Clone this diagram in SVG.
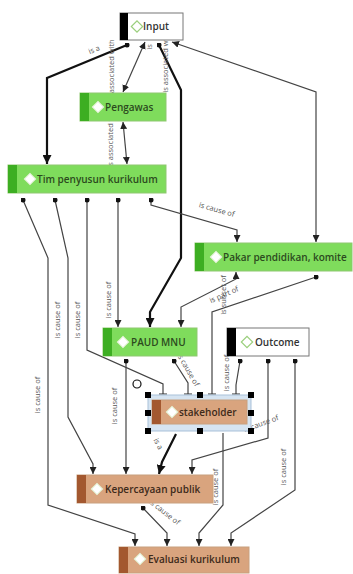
<svg xmlns="http://www.w3.org/2000/svg" width="353" height="574" viewBox="0 0 353 574">
<defs>
<style>
.ln{fill:none;stroke:#444;stroke-width:1.2}
.th{fill:none;stroke:#111;stroke-width:2.2}
.lb{font-family:"Open Sans","Noto Sans",sans-serif;font-size:7.5px;fill:#555}
.nt{font-family:"Open Sans","Noto Sans",sans-serif;font-size:10px;font-weight:600}
.g{fill:#7fdc5c;stroke:#8fc870;stroke-width:1}
.gb{fill:#3dae22}
.t{fill:#d9a47e;stroke:#c8a07f;stroke-width:1}
.tb{fill:#a3582f}
.w{fill:#fff;stroke:#777;stroke-width:1}
.wb{fill:#000}
.dg{fill:#fff;stroke:#e0f0d0;stroke-width:1}
.dw{fill:#fff;stroke:#9bcf7d;stroke-width:1.2}
.h{fill:#000}
</style>
<marker id="arr" viewBox="0 0 8 8" refX="8" refY="4" markerWidth="7" markerHeight="7" markerUnits="userSpaceOnUse" orient="auto-start-reverse"><path d="M0,0 L8,4 L0,8 z" fill="#222"/></marker>
<marker id="arrT" viewBox="0 0 8 8" refX="8" refY="4" markerWidth="9" markerHeight="9" markerUnits="userSpaceOnUse" orient="auto-start-reverse"><path d="M0,0 L8,4 L0,8 z" fill="#111"/></marker>
<marker id="dot" viewBox="0 0 6 6" refX="3" refY="3" markerWidth="5" markerHeight="5" markerUnits="userSpaceOnUse"><circle cx="3" cy="3" r="3" fill="#111"/></marker>
<marker id="tee" viewBox="0 0 4 10" refX="3" refY="5" markerWidth="4" markerHeight="8" markerUnits="userSpaceOnUse" orient="auto"><path d="M3,0 V10" stroke="#333" stroke-width="1.3"/></marker>
</defs>
<rect width="353" height="574" fill="#fff"/>

<g id="connectors">
<path class="th" d="M127,45 L47,78 L47,164" marker-start="url(#dot)" marker-end="url(#arrT)"/>
<path class="ln" d="M145,42 L123,92" marker-start="url(#arr)" marker-end="url(#arr)"/>
<path class="ln" d="M123,122 L127,164" marker-start="url(#arr)" marker-end="url(#arr)"/>
<path class="th" d="M159,45 L181,90 L181,258 L150,312 L150,327" marker-start="url(#dot)" marker-end="url(#arrT)"/>
<path class="ln" d="M172,42 L316,92 L316,242" marker-start="url(#arr)" marker-end="url(#arr)"/>
<path class="ln" d="M151,200 L151,205 L237,230 L237,242" marker-start="url(#dot)" marker-end="url(#arr)"/>
<path class="ln" d="M118,200 L118,327" marker-start="url(#dot)" marker-end="url(#arr)"/>
<path class="ln" d="M87,200 L87,350 L163,384 L163,394" marker-start="url(#dot)" marker-end="url(#tee)"/>
<path class="ln" d="M55,200 L68,258 L68,417 L93,464 L93,474" marker-start="url(#dot)" marker-end="url(#arr)"/>
<path class="ln" d="M23,200 L48,258 L48,505 L135,534 L135,546" marker-start="url(#dot)" marker-end="url(#arr)"/>
<path class="ln" d="M236,272 L236,279 L181,307 L181,327" marker-start="url(#arr)" marker-end="url(#arr)"/>
<path class="ln" d="M316,277 L212,312 L212,394" marker-start="url(#dot)" marker-end="url(#tee)"/>
<path class="ln" d="M126,361 L126,474" marker-start="url(#dot)" marker-end="url(#arr)"/>
<path class="ln" d="M174,361 L188,383 L188,394" marker-start="url(#dot)" marker-end="url(#tee)"/>
<path class="ln" d="M240,361 L236,385 L236,394" marker-start="url(#dot)" marker-end="url(#tee)"/>
<path class="ln" d="M268,361 L268,438 L192,460 L192,474" marker-start="url(#dot)" marker-end="url(#arr)"/>
<path class="ln" d="M295,361 L295,490 L231,533 L231,546" marker-start="url(#dot)" marker-end="url(#arr)"/>
<path class="th" d="M176,434 L162,462 L159,474" marker-end="url(#arrT)"/>
<path class="ln" d="M223,433 L223,505 L199,533 L199,546" marker-end="url(#arr)"/>
<path class="ln" d="M143,508 L167,533 L167,546" marker-start="url(#dot)" marker-end="url(#arr)"/>
</g>

<g id="labels">
<text class="lb" transform="translate(95,52) rotate(-22)" text-anchor="middle">is a</text>
<text class="lb" transform="translate(114,70) rotate(-90)" text-anchor="middle">is associated with</text>
<text class="lb" transform="translate(152,47) rotate(-90)" text-anchor="middle">is</text>
<text class="lb" transform="translate(168,62) rotate(-90)" text-anchor="middle">is associated with</text>
<text class="lb" transform="translate(113,137) rotate(-90)" text-anchor="middle">is associated with</text>
<text class="lb" transform="translate(216,212) rotate(16)" text-anchor="middle">is cause of</text>
<text class="lb" transform="translate(111,300) rotate(-90)" text-anchor="middle">is cause of</text>
<text class="lb" transform="translate(225,297) rotate(-24)" text-anchor="middle">is part of</text>
<text class="lb" transform="translate(226,295) rotate(-90)" text-anchor="middle">is subset of</text>
<text class="lb" transform="translate(60,320) rotate(-90)" text-anchor="middle">is cause of</text>
<text class="lb" transform="translate(80,320) rotate(-90)" text-anchor="middle">is cause of</text>
<text class="lb" transform="translate(40,395) rotate(-90)" text-anchor="middle">is cause of</text>
<text class="lb" transform="translate(117,406) rotate(-90)" text-anchor="middle">is cause of</text>
<text class="lb" transform="translate(186,371) rotate(60)" text-anchor="middle">is cause of</text>
<text class="lb" transform="translate(229,373) rotate(-90)" text-anchor="middle">is cause of</text>
<text class="lb" transform="translate(156,445) rotate(62)" text-anchor="middle">is a</text>
<text class="lb" transform="translate(262,426) rotate(-20)" text-anchor="middle">is cause of</text>
<text class="lb" transform="translate(218,487) rotate(-90)" text-anchor="middle">is cause of</text>
<text class="lb" transform="translate(286,467) rotate(-90)" text-anchor="middle">is cause of</text>
<text class="lb" transform="translate(163,514) rotate(38)" text-anchor="middle">is cause of</text>
</g>

<g id="node-input">
<rect class="w" x="120" y="13" width="63" height="27"/>
<rect class="wb" x="120" y="13" width="8" height="27"/>
<rect class="dw" x="133" y="22.5" width="8" height="8" transform="rotate(45 137 26.5)"/>
<text class="nt" x="143" y="30" fill="#333">Input</text>
</g>

<g id="node-pengawas">
<rect class="g" x="80" y="93" width="86" height="28"/>
<rect class="gb" x="80" y="93" width="9" height="28"/>
<rect class="dg" x="94" y="103" width="8" height="8" transform="rotate(45 98 107)"/>
<text class="nt" x="105" y="111" fill="#2c4a1e">Pengawas</text>
</g>

<g id="node-tim">
<rect class="g" x="8" y="165" width="158" height="28"/>
<rect class="gb" x="8" y="165" width="9" height="28"/>
<rect class="dg" x="26" y="175" width="8" height="8" transform="rotate(45 30 179)"/>
<text class="nt" x="37" y="183" fill="#2c4a1e">Tim penyusun kurikulum</text>
</g>

<g id="node-pakar">
<rect class="g" x="195" y="243" width="157" height="28"/>
<rect class="gb" x="195" y="243" width="9" height="28"/>
<rect class="dg" x="212" y="253" width="8" height="8" transform="rotate(45 216 257)"/>
<text class="nt" x="223" y="261" fill="#2c4a1e">Pakar pendidikan, komite</text>
</g>

<g id="node-paud">
<rect class="g" x="103" y="328" width="94" height="28"/>
<rect class="gb" x="103" y="328" width="9" height="28"/>
<rect class="dg" x="119" y="338" width="8" height="8" transform="rotate(45 123 342)"/>
<text class="nt" x="131" y="346" fill="#2c4a1e">PAUD MNU</text>
</g>

<g id="node-outcome">
<rect class="w" x="227" y="328" width="82" height="28"/>
<rect class="wb" x="227" y="328" width="9" height="28"/>
<rect class="dw" x="243" y="338" width="8" height="8" transform="rotate(45 247 342)"/>
<text class="nt" x="255" y="346" fill="#333">Outcome</text>
</g>

<g id="node-stakeholder">
<circle cx="137" cy="384" r="4" fill="none" stroke="#111" stroke-width="1.2"/>
<rect x="148" y="395" width="103" height="36" fill="#d6e4f1" stroke="#a9c1d9" stroke-width="1"/>
<rect class="t" x="152" y="400" width="95" height="24"/>
<rect class="tb" x="152" y="400" width="9" height="24"/>
<rect class="dg" x="168" y="408" width="8" height="8" transform="rotate(45 172 412)"/>
<text class="nt" x="179" y="416" fill="#3d2a1a">stakeholder</text>
<rect class="h" x="145" y="392" width="6" height="6"/>
<rect class="h" x="197" y="392" width="6" height="6"/>
<rect class="h" x="248" y="392" width="6" height="6"/>
<rect class="h" x="145" y="410" width="6" height="6"/>
<rect class="h" x="248" y="410" width="6" height="6"/>
<rect class="h" x="145" y="428" width="6" height="6"/>
<rect class="h" x="197" y="428" width="6" height="6"/>
<rect class="h" x="248" y="428" width="6" height="6"/>
</g>

<g id="node-kepercayaan">
<rect class="t" x="77" y="475" width="136" height="28"/>
<rect class="tb" x="77" y="475" width="9" height="28"/>
<rect class="dg" x="93" y="485" width="8" height="8" transform="rotate(45 97 489)"/>
<text class="nt" x="105" y="493" fill="#3d2a1a">Kepercayaan publik</text>
</g>

<g id="node-evaluasi">
<rect class="t" x="119" y="547" width="130" height="26"/>
<rect class="tb" x="119" y="547" width="9" height="26"/>
<rect class="dg" x="136" y="555" width="8" height="8" transform="rotate(45 140 559)"/>
<text class="nt" x="148" y="563" fill="#3d2a1a">Evaluasi kurikulum</text>
</g>
</svg>
